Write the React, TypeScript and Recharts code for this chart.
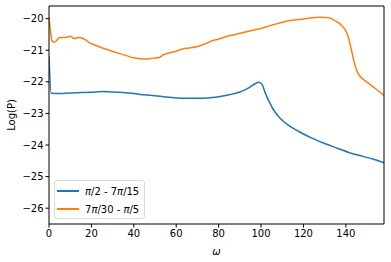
import React from "react";
import { LineChart, Line, XAxis, YAxis } from "recharts";

const blueOmega = [0, 1, 5, 10, 15, 20, 25, 30, 35, 40, 45, 50, 55, 60, 65, 70, 75, 80, 85, 90, 94, 97, 99, 100.5, 102, 104, 106, 109, 113, 118, 124, 130, 136, 142, 148, 153, 158];
const blueLogP = [-21.2, -22.36, -22.37, -22.35, -22.34, -22.33, -22.31, -22.32, -22.34, -22.37, -22.41, -22.44, -22.48, -22.51, -22.52, -22.52, -22.51, -22.47, -22.41, -22.32, -22.2, -22.07, -22.01, -22.08, -22.35, -22.65, -22.9, -23.15, -23.38, -23.58, -23.78, -23.95, -24.1, -24.25, -24.36, -24.45, -24.56];

const orangeOmega = [0, 0.7, 1.3, 2.3, 3.5, 5, 7.5, 10, 12, 14, 17, 19, 21, 24, 27, 30, 33, 36.5, 40, 43, 46, 49, 52, 54, 57, 60, 63, 66, 70, 74, 77, 80, 84, 88, 92, 96, 100, 104, 108, 112, 116, 120, 124, 128, 132, 135, 137.5, 139.5, 141, 142.5, 144, 145.5, 147.5, 150, 154, 158];
const orangeLogP = [-19.95, -20.4, -20.68, -20.75, -20.7, -20.6, -20.6, -20.56, -20.63, -20.6, -20.66, -20.76, -20.82, -20.9, -20.97, -21.04, -21.1, -21.17, -21.24, -21.27, -21.28, -21.25, -21.23, -21.14, -21.08, -21.03, -20.96, -20.93, -20.88, -20.79, -20.7, -20.65, -20.56, -20.5, -20.43, -20.37, -20.31, -20.23, -20.15, -20.08, -20.04, -20.01, -19.97, -19.96, -19.97, -20.07, -20.18, -20.33, -20.55, -20.95, -21.4, -21.7, -21.88, -22.01, -22.22, -22.43];

const xTicks = [0, 20, 40, 60, 80, 100, 120, 140];
const yTicks = [-26, -25, -24, -23, -22, -21, -20];
const seriesNames = ["π/2 - 7π/15", "7π/30 - π/5"];
const colors = ["#1f77b4", "#ff7f0e"];

const blueData = blueOmega.map((w, i) => ({ w, v: blueLogP[i] }));
const orangeData = orangeOmega.map((w, i) => ({ w, v: orangeLogP[i] }));

const font = "'DejaVu Sans', sans-serif";
const tickStyle = { fontSize: 10, fill: "#000", fontFamily: font };

const renderName = (name: string) => {
  const parts = name.split("π");
  const out: React.ReactNode[] = [];
  parts.forEach((p, i) => {
    out.push(<span key={"p" + i}>{p}</span>);
    if (i < parts.length - 1) out.push(<span key={"pi" + i} style={{ fontStyle: "italic" }}>π</span>);
  });
  return out;
};

const LegendBox = () => (
  <div
    style={{
      position: "absolute",
      left: 54,
      top: 180,
      width: 91,
      height: 39,
      border: "1px solid #d9d9d9",
      borderRadius: 3,
      background: "rgba(255,255,255,0.8)",
      boxSizing: "border-box",
      fontFamily: font,
      fontSize: 10,
      color: "#000",
    }}
  >
    {seriesNames.map((n, i) => (
      <div key={n} style={{ position: "absolute", left: 2, top: 3 + i * 18, height: 14, display: "flex", alignItems: "center", whiteSpace: "nowrap" }}>
        <div style={{ width: 22, height: 2, background: colors[i], marginRight: 6 }} />
        <span>{renderName(n)}</span>
      </div>
    ))}
  </div>
);

const YLabel = (props: any) => {
  const vb = props.viewBox || {};
  const cy = (vb.y || 0) + (vb.height || 0) / 2;
  return (
    <text x={11.5} y={cy} transform={`rotate(-90, 11.5, ${cy})`} textAnchor="middle" dominantBaseline="central" style={{ fontSize: 10, fill: "#000", fontFamily: font }}>
      Log(P)
    </text>
  );
};

export default function App() {
  return (
    <div style={{ position: "absolute", left: 0, top: 0, width: 391, height: 262, background: "#fff" }}>
      <LineChart width={391} height={262} margin={{ top: 5, right: 6, bottom: 0, left: 0 }}>
        <XAxis
          xAxisId="b"
          type="number"
          dataKey="w"
          domain={[0, 158]}
          ticks={xTicks}
          allowDataOverflow
          height={38}
          tick={tickStyle}
          tickSize={3.5}
          tickLine={{ stroke: "#000" }}
          axisLine={{ stroke: "#000" }}
          label={{ value: "ω", position: "insideBottom", offset: 7, style: { fontSize: 10, fontStyle: "italic", fill: "#000", fontFamily: font } }}
        />
        <XAxis xAxisId="t" orientation="top" type="number" dataKey="w" domain={[0, 158]} allowDataOverflow height={1} tick={false} tickLine={false} axisLine={{ stroke: "#000" }} />
        <YAxis
          yAxisId="l"
          type="number"
          domain={[-26.5, -19.6]}
          ticks={yTicks}
          allowDataOverflow
          width={49}
          tick={tickStyle}
          tickSize={3.5}
          tickLine={{ stroke: "#000" }}
          axisLine={{ stroke: "#000" }}
          tickFormatter={(v: number) => String(v).replace("-", "\u2212")}
          label={<YLabel />}
        />
        <YAxis yAxisId="r" orientation="right" type="number" domain={[-26.5, -19.6]} allowDataOverflow width={1} tick={false} tickLine={false} axisLine={{ stroke: "#000" }} />
        <Line xAxisId="b" yAxisId="l" data={blueData} dataKey="v" type="monotone" stroke={colors[0]} strokeWidth={1.5} dot={false} isAnimationActive={false} name={seriesNames[0]} />
        <Line xAxisId="b" yAxisId="l" data={orangeData} dataKey="v" type="monotone" stroke={colors[1]} strokeWidth={1.5} dot={false} isAnimationActive={false} name={seriesNames[1]} />
        <Line xAxisId="t" yAxisId="r" data={orangeData} dataKey="v" stroke="none" dot={false} legendType="none" isAnimationActive={false} />
      </LineChart>
      <LegendBox />
    </div>
  );
}
